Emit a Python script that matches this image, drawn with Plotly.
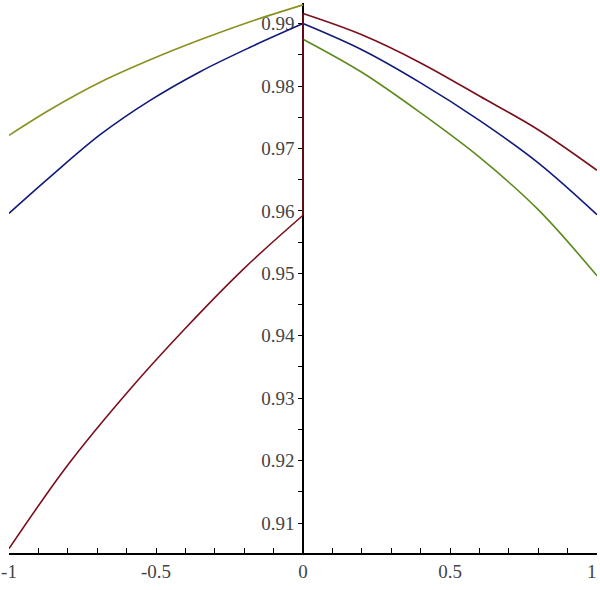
import plotly.graph_objects as go

# ---- data ----
x_left = [-1.0, -0.861, -0.69, -0.52, -0.35, -0.18, 0.0]
x_right = [0.0, 0.2, 0.4, 0.6, 0.8, 1.0]

red_x_left = [-1.0, -0.8, -0.6, -0.4, -0.2, 0.0]
red_y_left = [0.9059, 0.9193, 0.9308, 0.9412, 0.9508, 0.9593]
red_y_right = [0.9916, 0.9882, 0.9837, 0.9784, 0.9730, 0.9665]

blue_y_left = [0.9596, 0.9654, 0.9722, 0.9777, 0.9823, 0.9862, 0.9900]
blue_y_right = [0.9900, 0.9858, 0.9805, 0.9745, 0.9677, 0.9594]

green_y_left = [0.9721, 0.9762, 0.9806, 0.9842, 0.9874, 0.9903, 0.9930]
green_y_right = [0.9875, 0.9822, 0.9757, 0.9686, 0.9602, 0.9496]

x_tickvals = [-1, -0.5, 0, 0.5, 1]
x_ticktext = ["-1", "-0.5", "0", "0.5", "1"]
y_tickvals = [0.91, 0.92, 0.93, 0.94, 0.95, 0.96, 0.97, 0.98, 0.99]
y_ticktext = ["0.91", "0.92", "0.93", "0.94", "0.95", "0.96", "0.97", "0.98", "0.99"]

RED = "#7a0f1c"
BLUE = "#101a78"
GREEN_L = "#8a9020"
GREEN_R = "#5c8a1c"

fig = go.Figure()

def add(x, y, color):
    fig.add_trace(go.Scatter(x=x, y=y, mode="lines",
                             line=dict(color=color, width=1.6, shape="spline", smoothing=1.0),
                             showlegend=False, hoverinfo="skip"))

add(x_left, green_y_left, GREEN_L)
add(x_right, green_y_right, GREEN_R)
add(x_left, blue_y_left, BLUE)
add(x_right, blue_y_right, BLUE)
add(red_x_left, red_y_left, RED)
add([0.0, 0.0], [red_y_left[-1], red_y_right[0]], RED)
add(x_right, red_y_right, RED)

font = dict(family="Liberation Serif, Times New Roman, serif", size=19, color="#444444")

# the last x tick label sits at the window edge: draw it as text kept inside the picture
axis_ticktext = x_ticktext[:-1] + [""]
fig.add_annotation(x=x_tickvals[-1], xref="x", y=0, yref="paper",
                   text=x_ticktext[-1], showarrow=False, font=font,
                   xanchor="right", yanchor="middle", xshift=2, yshift=-18)

fig.update_layout(
    width=600, height=590,
    margin=dict(l=9, r=3, t=3, b=37),
    paper_bgcolor="white", plot_bgcolor="white",
    font=font,
    xaxis=dict(
        range=[-1, 1], showgrid=False, zeroline=False, automargin=False,
        showline=True, linecolor="black", linewidth=1.5,
        tickmode="array", tickvals=x_tickvals, ticktext=axis_ticktext,
        ticks="inside", ticklen=5, tickwidth=1.2, tickcolor="black",
        minor=dict(dtick=0.1, tick0=0, ticks="inside", ticklen=5, tickwidth=1.2, tickcolor="black", showgrid=False),
        tickfont=font, layer="below traces", fixedrange=True, ticklabeloverflow="allow",
    ),
    yaxis=dict(
        range=[0.9052, 0.9933], showgrid=False, zeroline=False, automargin=False,
        anchor="free", position=0.5, side="left",
        showline=True, linecolor="black", linewidth=1.5,
        tickmode="array", tickvals=y_tickvals, ticktext=y_ticktext,
        ticks="outside", ticklen=4, tickwidth=1.2, tickcolor="black",
        minor=dict(dtick=0.005, tick0=0.905, ticks="outside", ticklen=4, tickwidth=1.2, tickcolor="black", showgrid=False),
        tickfont=font, layer="below traces", fixedrange=True, ticklabeloverflow="allow",
    ),
)

fig.write_html("out.html", config={"displayModeBar": False},
               post_script="document.body.style.margin='0';document.body.style.overflow='hidden';")
